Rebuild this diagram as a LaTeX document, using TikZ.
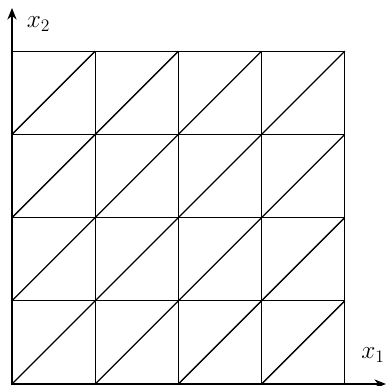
\documentclass[tikz,border=0pt]{standalone}
\usepackage{amsmath,amssymb}
\usepackage{tikz}
\usetikzlibrary{arrows.meta,positioning,calc}
\tikzset{
  mesh/.style={draw=black,line width=0.9pt},
  axis/.style={-{Stealth[length=2.8mm,width=2.2mm]},line width=0.9pt},
  lbl/.style={font=\LARGE,inner sep=1pt}
}
\begin{document}
\begin{tikzpicture}
\useasboundingbox (-0.288,-0.048) rectangle (8.99,9.23);
\coordinate (o) at (0,0);
\coordinate (xe) at (8.99,0);
\coordinate (ye) at (0,9.04);
% grid squares and diagonals
\foreach \i in {0,1,2,3}{
  \foreach \j in {0,1,2,3}{
    \draw[mesh] (2*\i,2*\j) rectangle ++(2,2);
    \draw[mesh] (2*\i,2*\j) -- ++(2,2);
  }
}
\draw[axis] (o) -- (xe);
\draw[axis] (o) -- (ye);
\node[lbl] (xone) at (8.68,0.70) {$x_1$};
\node[lbl] (xtwo) at (0.64,8.65) {$x_2$};
\end{tikzpicture}
\end{document}
